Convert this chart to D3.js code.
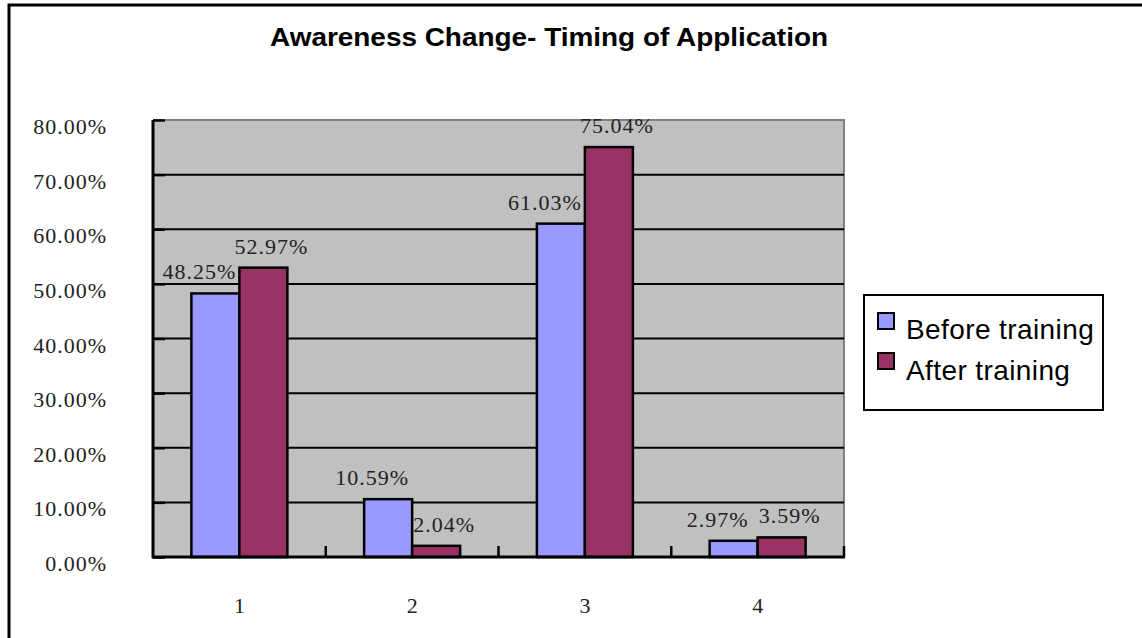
<!DOCTYPE html>
<html>
<head>
<meta charset="utf-8">
<script src="https://cdn.jsdelivr.net/npm/d3@7"></script>
<style>
  html, body { margin: 0; padding: 0; background: #fff; }
  svg { display: block; }
</style>
</head>
<body>
<svg id="chart" width="1142" height="638"></svg>
<script>
// Chart data
const categories = ["1", "2", "3", "4"];
const seriesNames = ["Before training", "After training"];
const beforeValues = [48.25, 10.59, 61.03, 2.97];
const afterValues = [52.97, 2.04, 75.04, 3.59];
const yTicks = [0, 10, 20, 30, 40, 50, 60, 70, 80];
const yTickLabels = ["0.00%", "10.00%", "20.00%", "30.00%", "40.00%", "50.00%", "60.00%", "70.00%", "80.00%"];
const titleText = "Awareness Change- Timing of Application";

const colors = ["#9999ff", "#993366"];
const seriesValues = [beforeValues, afterValues];

const svg = d3.select("#chart");

// Outer chart frame (open on right and bottom, cut by the page edge)
svg.append("rect")
  .attr("x", 9).attr("y", 5)
  .attr("width", 1160).attr("height", 660)
  .attr("fill", "#fff").attr("stroke", "#000").attr("stroke-width", 3);

// Title
svg.append("text")
  .attr("x", 549).attr("y", 46)
  .attr("text-anchor", "middle")
  .attr("font-family", "Liberation Sans, Arial, sans-serif")
  .attr("font-weight", "bold")
  .attr("font-size", 25)
  .attr("textLength", 558)
  .attr("lengthAdjust", "spacingAndGlyphs")
  .text(titleText);

// Plot area
const plot = { left: 153, right: 844, top: 120, bottom: 557 };

const x = d3.scaleBand()
  .domain(categories)
  .range([plot.left, plot.right])
  .paddingInner(0).paddingOuter(0);

const y = d3.scaleLinear()
  .domain([0, 80])
  .range([plot.bottom, plot.top]);

const barW = 48;

svg.append("rect")
  .attr("x", plot.left).attr("y", plot.top)
  .attr("width", plot.right - plot.left)
  .attr("height", plot.bottom - plot.top)
  .attr("fill", "#c0c0c0");

// Top and right plot border (gray)
svg.append("path")
  .attr("d", `M${plot.left},${plot.top}H${plot.right}V${plot.bottom}`)
  .attr("fill", "none").attr("stroke", "#808080").attr("stroke-width", 2);

// Horizontal gridlines
svg.append("g")
  .selectAll("line")
  .data(yTicks.filter(t => t > 0 && t < 80))
  .join("line")
  .attr("x1", plot.left).attr("x2", plot.right)
  .attr("y1", d => y(d)).attr("y2", d => y(d))
  .attr("stroke", "#000").attr("stroke-width", 2);

// Bars
const barData = [];
categories.forEach((c, i) => {
  seriesValues.forEach((vals, s) => {
    barData.push({ cat: c, s, v: vals[i] });
  });
});

const center = c => x(c) + x.bandwidth() / 2;

svg.append("g")
  .selectAll("rect")
  .data(barData)
  .join("rect")
  .attr("x", d => center(d.cat) - barW + d.s * barW)
  .attr("y", d => y(d.v))
  .attr("width", barW)
  .attr("height", d => y(0) - y(d.v))
  .attr("fill", d => colors[d.s])
  .attr("stroke", "#000")
  .attr("stroke-width", 2.5);

// Axes
const yAxis = d3.axisLeft(y).tickValues(yTicks).tickSize(-12).tickFormat("");
const gy = svg.append("g").attr("transform", `translate(${plot.left},0)`).call(yAxis);
gy.select(".domain").remove();
gy.selectAll(".tick line").attr("stroke", "#000").attr("stroke-width", 2.5);
svg.append("line")
  .attr("x1", plot.left).attr("x2", plot.left)
  .attr("y1", plot.top).attr("y2", plot.bottom + 1)
  .attr("stroke", "#000").attr("stroke-width", 3);

// x-axis baseline and category boundary ticks
svg.append("line")
  .attr("x1", plot.left - 1).attr("x2", plot.right + 1)
  .attr("y1", plot.bottom).attr("y2", plot.bottom)
  .attr("stroke", "#000").attr("stroke-width", 3);
const boundaries = categories.map(c => x(c)).concat([x(categories[categories.length - 1]) + x.bandwidth()]);
svg.append("g")
  .selectAll("line")
  .data(boundaries.slice(1))
  .join("line")
  .attr("x1", d => d).attr("x2", d => d)
  .attr("y1", plot.bottom).attr("y2", plot.bottom - 11)
  .attr("stroke", "#000").attr("stroke-width", 2.5);

// y tick labels
const serif = "Liberation Serif, Times New Roman, serif";
svg.append("g")
  .selectAll("text")
  .data(yTicks)
  .join("text")
  .attr("x", 107)
  .attr("y", d => y(d) + 14)
  .attr("text-anchor", "end")
  .attr("font-family", serif)
  .attr("font-size", 22)
  .attr("letter-spacing", 1)
  .attr("fill", "#222")
  .text((d, i) => yTickLabels[i]);

// x category labels
svg.append("g")
  .selectAll("text")
  .data(categories)
  .join("text")
  .attr("x", d => center(d))
  .attr("y", 613)
  .attr("text-anchor", "middle")
  .attr("font-family", serif)
  .attr("font-size", 22)
  .attr("fill", "#222")
  .text(d => d);

// Value labels above bars
const labelShift = [-16, 8];
svg.append("g")
  .selectAll("text")
  .data(barData)
  .join("text")
  .attr("x", d => center(d.cat) - barW / 2 + d.s * barW + labelShift[d.s])
  .attr("y", d => y(d.v) - 14)
  .attr("text-anchor", "middle")
  .attr("font-family", serif)
  .attr("font-size", 22)
  .attr("letter-spacing", 1)
  .attr("fill", "#222")
  .text(d => d.v.toFixed(2) + "%");

// Legend
const legend = svg.append("g");
legend.append("rect")
  .attr("x", 864).attr("y", 295)
  .attr("width", 239).attr("height", 115)
  .attr("fill", "#fff").attr("stroke", "#000").attr("stroke-width", 2);
seriesNames.forEach((name, i) => {
  legend.append("rect")
    .attr("x", 878).attr("y", 313 + i * 40)
    .attr("width", 16).attr("height", 16)
    .attr("fill", colors[i]).attr("stroke", "#000").attr("stroke-width", 2);
  legend.append("text")
    .attr("x", 906).attr("y", 339 + i * 41)
    .attr("font-family", "Liberation Sans, Arial, sans-serif")
    .attr("font-size", 28)
    .attr("letter-spacing", 0.4)
    .attr("fill", "#000")
    .text(name);
});
</script>
</body>
</html>
